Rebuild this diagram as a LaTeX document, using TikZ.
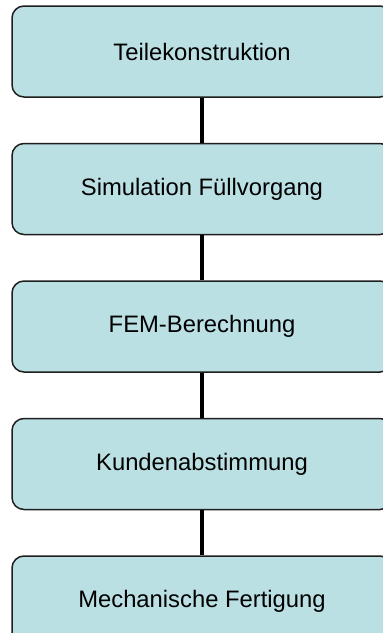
\documentclass[tikz,border=0pt]{standalone}
\usepackage{fontspec}
\setmainfont{Liberation Sans}
\usetikzlibrary{positioning}
\definecolor{boxfill}{RGB}{187,224,227}
\definecolor{boxline}{RGB}{30,30,30}
\begin{document}
\begin{tikzpicture}
		[step box/.style={draw=boxline, line width=1.5pt, fill=boxfill, rounded corners=12pt,
			minimum width=380pt, minimum height=91pt, inner sep=0pt,
			font=\fontsize{23.8}{28}\selectfont},
		link/.style={line width=4pt}]
		\useasboundingbox (0,0) rectangle (383pt,-633pt);
		\node[step box] (teile) at (202pt,-51.5pt) {Teilekonstruktion};
		\node[step box, below=45pt of teile] (simu) {Simulation Füllvorgang};
		\node[step box, below=45pt of simu] (fem) {FEM-Berechnung};
		\node[step box, below=45pt of fem] (kunde) {Kundenabstimmung};
		\node[step box, below=45pt of kunde] (ferti) {Mechanische Fertigung};
		\draw[link] (teile) -- (simu);
		\draw[link] (simu) -- (fem);
		\draw[link] (fem) -- (kunde);
		\draw[link] (kunde) -- (ferti);
	\end{tikzpicture}
\end{document}
